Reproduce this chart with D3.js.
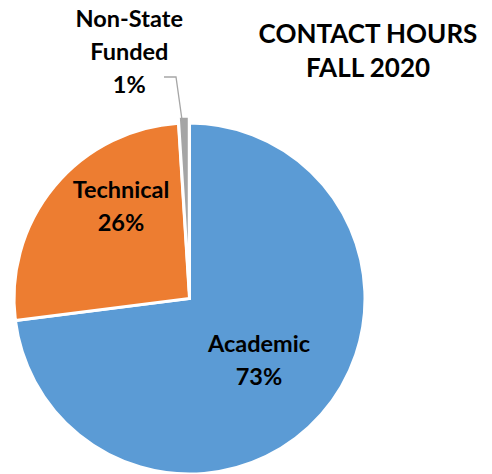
<!DOCTYPE html>
<html><head><meta charset="utf-8">
<script src="https://cdn.jsdelivr.net/npm/d3@7"></script>
<style>html,body{margin:0;padding:0;background:#fff;}svg{display:block;}</style>
</head><body>
<svg id="chart" width="492" height="474"></svg>
<script>
const categories = ["Academic", "Technical", "Non-State Funded"];
const values = [73, 26, 1];
const labelLines = [["Academic", "73%"], ["Technical", "26%"], ["Non-State", "Funded", "1%"]];
const colors = ["#5b9bd5", "#ed7d31", "#a5a5a5"];
const titleLines = ["CONTACT HOURS", "FALL 2020"];

const svg = d3.select("#chart");
const cx = 189.5, cy = 298.5, R = 175.5;
const explode = [0, 0, 7];

const pie = d3.pie().sort(null).value(d => d).startAngle(0).endAngle(2 * Math.PI);
const arcs = pie(values);
const arc = d3.arc().innerRadius(0).outerRadius(R);

const g = svg.append("g").attr("transform", `translate(${cx},${cy})`);
g.selectAll("path").data(arcs).join("path")
  .attr("d", arc)
  .attr("fill", (d, i) => colors[i])
  .attr("stroke", "#fff")
  .attr("stroke-width", 3)
  .attr("stroke-linejoin", "miter")
  .attr("transform", (d, i) => {
    const a = (d.startAngle + d.endAngle) / 2;
    return `translate(${Math.sin(a) * explode[i]},${-Math.cos(a) * explode[i]})`;
  });

// label placement: [angle offset (rad) relative to mid-angle, radius]
const labelPlace = [
  { da: 0.017, r: 94 },
  { da: 0.235, r: 114 },
  { da: -0.209, r: 253 }
];
const font = "Lato, 'Open Sans', sans-serif";
const lh = 33;
arcs.forEach((d, i) => {
  const a = (d.startAngle + d.endAngle) / 2 + labelPlace[i].da;
  const x = Math.sin(a) * labelPlace[i].r;
  const y = -Math.cos(a) * labelPlace[i].r;
  const lines = labelLines[i];
  const t = g.append("text")
    .attr("text-anchor", "middle")
    .attr("font-family", font)
    .attr("font-weight", 700)
    .attr("font-size", 23.5)
    .attr("fill", "#000");
  lines.forEach((s, k) => {
    t.append("tspan").attr("x", x)
      .attr("y", y + (k - (lines.length - 1) / 2) * lh + 7)
      .text(s);
  });
});

// leader line for the small slice
const small = arcs[2];
const sa = (small.startAngle + small.endAngle) / 2;
const tip = [Math.sin(sa) * (R + explode[2]) - 2, -Math.cos(sa) * (R + explode[2]) + 2];
g.append("polyline")
  .attr("points", [[-25.5, -221.5], [-13.5, -221.5], tip].map(p => p.join(",")).join(" "))
  .attr("fill", "none")
  .attr("stroke", "#a6a6a6")
  .attr("stroke-width", 1.3);

// title
const title = svg.append("text")
  .attr("text-anchor", "middle")
  .attr("font-family", font)
  .attr("font-weight", 700)
  .attr("font-size", 26)
  .attr("fill", "#000");
titleLines.forEach((s, k) => {
  title.append("tspan").attr("x", 368).attr("y", 43 + k * 34).text(s);
});
</script>
</body></html>
